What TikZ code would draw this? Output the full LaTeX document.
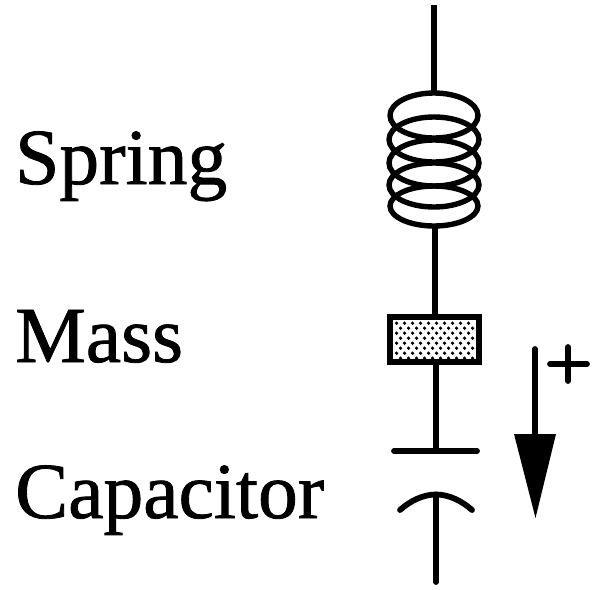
\documentclass[tikz,border=0pt]{standalone}
\usepackage{fontspec}
\setmainfont[FakeBold=1]{Liberation Serif}
\tikzset{
  wire/.style={line width=5.8pt,black},
  coilring/.style={line width=5.4pt,black},
  stroke/.style={line width=5.8pt,line cap=round,black},
  lab/.style={anchor=base west,inner sep=0pt,font=\fontsize{79.5}{79.5}\selectfont},
}
\begin{document}
\begin{tikzpicture}[x=1pt,y=-1pt]
\useasboundingbox (0,0) rectangle (593,589);
\fill[white] (0,0) rectangle (593,589);
% labels
\node[lab] (spring) at (15,184) {Spring};
\node[lab] (mass) at (15,362) {Mass};
\node[lab] (capacitor) at (15,518) {Capacitor};
% free ends
\coordinate (top) at (434,5);
\coordinate (coiltop) at (434,93);
\coordinate (coilbot) at (435,226);
\coordinate (masstop) at (435,318);
\coordinate (massbot) at (436,362);
\coordinate (plate) at (436,451);
\coordinate (plateL) at (394,451);
\coordinate (plateR) at (477,451);
\coordinate (arcL) at (400,510);
\coordinate (arcR) at (472,510);
\coordinate (arcT) at (436,494.5);
\coordinate (bottom) at (436,582);
% spring
\draw[coilring] (434,115.5) ellipse [x radius=44,y radius=22.5];
\draw[coilring] (434,139.5) ellipse [x radius=45,y radius=22.5];
\draw[coilring] (434,163) ellipse [x radius=45,y radius=23];
\draw[coilring] (434,185) ellipse [x radius=45,y radius=22];
\draw[coilring] (434,206) ellipse [x radius=44,y radius=20];
\draw[wire] (top) -- (coiltop);
\draw[wire] (coilbot) -- (masstop);
% mass
\node[draw=black,line width=6.4pt,fill=white,minimum width=88.5pt,minimum height=44.5pt,inner sep=0pt] (massbox) at (434.5,339.5) {};
\foreach \r in {0,...,7}{
  \foreach \c in {0,...,10}{
    \pgfmathsetmacro{\xx}{396.5+\c*8+mod(\r,2)*4}
    \pgfmathsetmacro{\yy}{323.2+\r*5}
    \ifdim\xx pt<476pt
      \fill[black] (\xx,\yy) circle (1.8pt);
    \fi
  }
}
% capacitor
\draw[wire] (massbot) -- (plate);
\draw[stroke] (plateL) -- (plateR);
\draw[stroke] (arcL) .. controls (410,501) and (423,494.5) .. (arcT) .. controls (449,494.5) and (462,501) .. (arcR);
\draw[stroke] (arcT) -- (bottom);
% direction arrow
\coordinate (arrowtop) at (535,349);
\coordinate (arrowbase) at (535,436);
\draw[stroke] (arrowtop) -- (arrowbase);
\fill[black] (514,434) -- (556,434) -- (535.5,518) -- cycle;
% plus
\draw[stroke] (550,364) -- (587,364);
\draw[stroke] (568,347) -- (568,381);
\end{tikzpicture}
\end{document}
